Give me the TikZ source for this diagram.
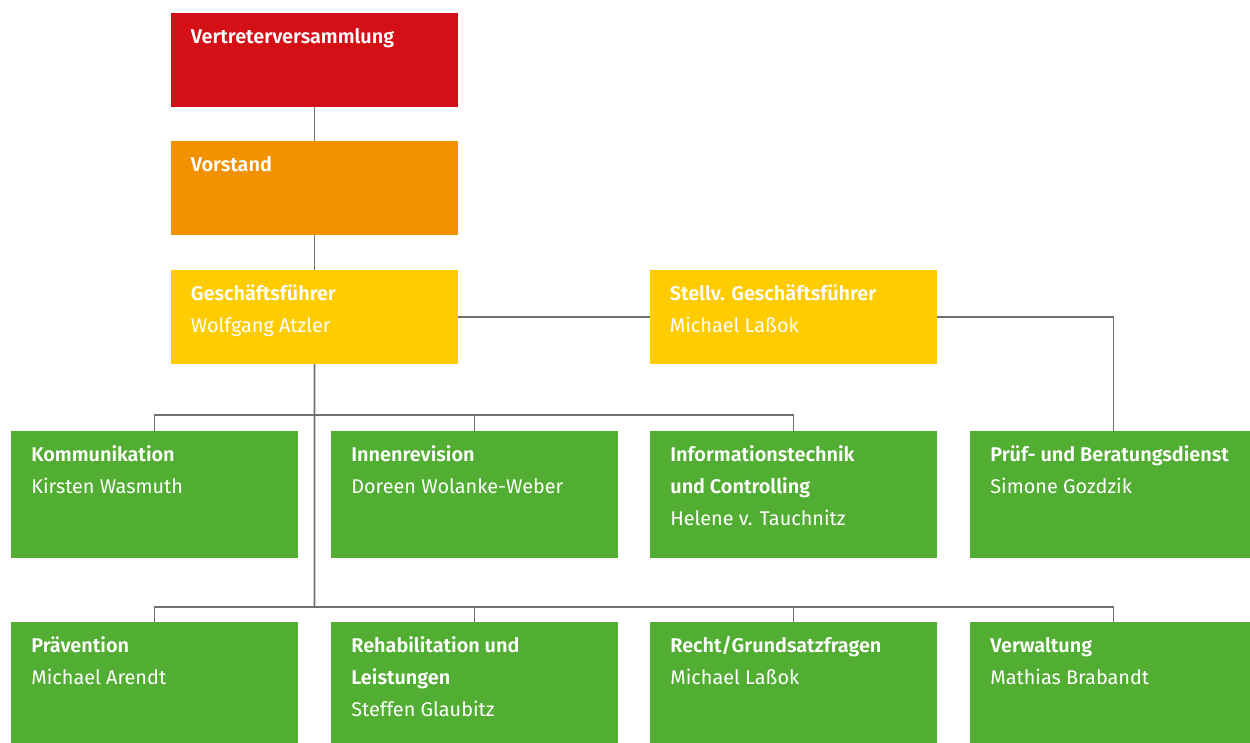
\documentclass[tikz,border=0pt]{standalone}
\usepackage{fontspec}
\setmainfont{Fira Sans}[BoldFont={Fira Sans SemiBold}]
\usetikzlibrary{positioning}

\definecolor{vvred}{HTML}{D41016}
\definecolor{vsorange}{HTML}{F39200}
\definecolor{gfyellow}{HTML}{FFCC00}
\definecolor{divgreen}{HTML}{52AE32}
\definecolor{conngray}{HTML}{707070}

\begin{document}
\begin{tikzpicture}[x=0.02cm, y=-0.02cm,
  box/.style={anchor=north west, minimum width=5.74cm, minimum height=1.88cm,
    inner sep=0pt, outer sep=0pt},
  tall/.style={minimum height=2.54cm},
  lbl/.style={inner sep=0pt, text=white, align=left,
    font=\fontsize{11.3}{18.2}\selectfont},
  conn/.style={draw=conngray, line width=0.9pt}]
\def\strt{\rule{0pt}{0.4cm}}

\useasboundingbox (0,0) rectangle (1250,743);
\clip (0,0) rectangle (1250,743);

%%%%%%%%%%%%%-------------Leitung
\node[box, fill=vvred] (vv) at (171,13) {};
\node[box, fill=vsorange] (vs) at (171,141) {};
\node[box, fill=gfyellow] (gf) at (171,270) {};
\node[box, fill=gfyellow] (sgf) at (650,270) {};

%%%%%%%%%%%%%-------------Bereiche
\node[box, tall, fill=divgreen] (komm) at (11,431) {};
\node[box, tall, fill=divgreen] (innen) at (331,431) {};
\node[box, tall, fill=divgreen] (it) at (650,431) {};
\node[box, tall, fill=divgreen] (pruef) at (970,431) {};

\node[box, tall, fill=divgreen] (praev) at (11,622) {};
\node[box, tall, fill=divgreen] (reha) at (331,622) {};
\node[box, tall, fill=divgreen] (recht) at (650,622) {};
\node[box, tall, fill=divgreen] (verw) at (970,622) {};

%%%%%%%%%%%%%-------------Texte
\node[lbl, below right=0.2cm and 0.39cm of vv.north west] (vv-t) {\strt\textbf{Vertreterversammlung}};
\node[lbl, below right=0.2cm and 0.39cm of vs.north west] (vs-t) {\strt\textbf{Vorstand}};
\node[lbl, below right=0.2cm and 0.39cm of gf.north west] (gf-t) {\strt\textbf{Geschäftsführer}\\Wolfgang Atzler};
\node[lbl, below right=0.2cm and 0.39cm of sgf.north west] (sgf-t) {\strt\textbf{Stellv. Geschäftsführer}\\Michael Laßok};

\node[lbl, below right=0.2cm and 0.4cm of komm.north west] (komm-t) {\strt\textbf{Kommunikation}\\Kirsten Wasmuth};
\node[lbl, below right=0.2cm and 0.4cm of innen.north west] (innen-t) {\strt\textbf{Innenrevision}\\Doreen Wolanke-Weber};
\node[lbl, below right=0.2cm and 0.4cm of it.north west] (it-t) {\strt\textbf{Informationstechnik}\\\textbf{und Controlling}\\Helene v. Tauchnitz};
\node[lbl, below right=0.2cm and 0.4cm of pruef.north west] (pruef-t) {\strt\textbf{Prüf- und Beratungsdienst}\\Simone Gozdzik};

\node[lbl, below right=0.2cm and 0.4cm of praev.north west] (praev-t) {\strt\textbf{Prävention}\\Michael Arendt};
\node[lbl, below right=0.2cm and 0.4cm of reha.north west] (reha-t) {\strt\textbf{Rehabilitation und}\\\textbf{Leistungen}\\Steffen Glaubitz};
\node[lbl, below right=0.2cm and 0.4cm of recht.north west] (recht-t) {\strt\textbf{Recht/Grundsatzfragen}\\Michael Laßok};
\node[lbl, below right=0.2cm and 0.4cm of verw.north west] (verw-t) {\strt\textbf{Verwaltung}\\Mathias Brabandt};

%%%%%%%%%%%%%-------------Linien
\coordinate (bus-a) at (314.5,415);
\coordinate (bus-b) at (314.5,607);

\draw[conn] (vv.south) -- (vs.north);
\draw[conn] (vs.south) -- (gf.north);
\draw[conn] (gf.east) -- (sgf.west);
\draw[conn] (sgf.east) -| (pruef.north);
\draw[conn] (gf.south) -- (bus-b);

\draw[conn] (komm.north) |- (bus-a) -| (it.north);
\draw[conn] (innen.north) -- (innen.north |- bus-a);

\draw[conn] (praev.north) |- (bus-b) -| (verw.north);
\foreach \n in {reha,recht}{
\draw[conn] (\n.north) -- (\n.north |- bus-b);}

\end{tikzpicture}
\end{document}
